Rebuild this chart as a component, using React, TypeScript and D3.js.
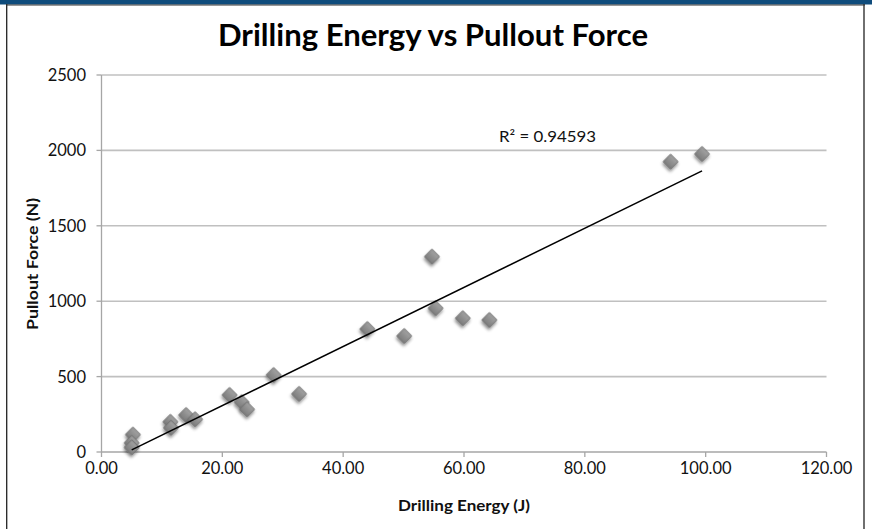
import React from "react";
import * as d3 from "d3";

const energy = [5.2, 5.0, 5.0, 11.4, 11.5, 14.0, 15.5, 21.2, 23.2, 24.1, 28.5, 32.7, 44.0, 50.1, 54.7, 55.3, 59.8, 64.2, 94.2, 99.4];
const force = [115, 60, 30, 200, 160, 245, 217, 378, 330, 283, 510, 385, 815, 769, 1295, 953, 887, 875, 1925, 1976];
const xTicks = [0, 20, 40, 60, 80, 100, 120];
const yTicks = [0, 500, 1000, 1500, 2000, 2500];
const titleText = "Drilling Energy vs Pullout Force";
const xTitle = "Drilling Energy (J)";
const yTitle = "Pullout Force (N)";
const r2Label = "R² = 0.94593";

const W = 872;
const H = 529;
const FONT = "Lato, 'Open Sans', 'DejaVu Sans', sans-serif";

export default function App() {
  const x = d3.scaleLinear().domain([0, 120]).range([101.5, 826.5]);
  const y = d3.scaleLinear().domain([0, 2500]).range([452, 75]);

  const mx = d3.mean(energy) as number;
  const my = d3.mean(force) as number;
  let sxy = 0, sxx = 0;
  energy.forEach((e, i) => { sxy += (e - mx) * (force[i] - my); sxx += (e - mx) * (e - mx); });
  const slope = sxy / sxx;
  const intercept = my - slope * mx;
  const x0 = d3.min(energy) as number;
  const x1 = d3.max(energy) as number;
  const line = d3.line<number>().x((d) => x(d)).y((d) => y(intercept + slope * d));
  const diamond = d3.symbol().type(d3.symbolSquare).size(112)();

  return (
    <svg width={W} height={H} style={{ position: "absolute", left: 0, top: 0, background: "#fff" }}>
      <defs>
        <filter id="sh" x="-50%" y="-50%" width="200%" height="200%">
          <feDropShadow dx="1.2" dy="2" stdDeviation="1.4" floodColor="#000" floodOpacity="0.45" />
        </filter>
        <linearGradient id="dg" x1="0" y1="0" x2="0" y2="1">
          <stop offset="0" stopColor="#a2a2a2" />
          <stop offset="1" stopColor="#7c7c7c" />
        </linearGradient>
      </defs>
      <rect x={0} y={0} width={W} height={H} fill="#fff" />
      <rect x={0} y={0} width={W} height={4.5} fill="#0f4c7c" />
      <line x1={6.7} x2={6.7} y1={4} y2={H} stroke="#222" strokeWidth={1.3} />
      <line x1={864} x2={864} y1={4} y2={H} stroke="#222" strokeWidth={1.3} />
      <line x1={6} x2={865} y1={5} y2={5} stroke="#333" strokeWidth={1} />

      <text x={433} y={46} textAnchor="middle" fontFamily={FONT} fontWeight={700} fontSize={30}
        textLength={430} lengthAdjust="spacingAndGlyphs" fill="#000">{titleText}</text>

      {yTicks.map((t) => (
        <g key={"gy" + t}>
          <line x1={x(0)} x2={x(120)} y1={y(t)} y2={y(t)} stroke={t === 0 ? "#a6a6a6" : "#c0c0c0"} strokeWidth={1.6} />
          <line x1={x(0) - 5} x2={x(0)} y1={y(t)} y2={y(t)} stroke="#a6a6a6" strokeWidth={1.3} />
          <text x={86} y={y(t)} dy="0.36em" textAnchor="end" fontFamily={FONT} fontSize={16.5} fill="#111">{t}</text>
        </g>
      ))}
      <line x1={x(0)} x2={x(0)} y1={y(2500)} y2={y(0)} stroke="#a6a6a6" strokeWidth={1.3} />
      {xTicks.map((t) => (
        <g key={"gx" + t}>
          <line x1={x(t)} x2={x(t)} y1={y(0)} y2={y(0) + 5} stroke="#a6a6a6" strokeWidth={1.3} />
          <text x={x(t)} y={468} dy="0.36em" textAnchor="middle" fontFamily={FONT} fontSize={16.5} fill="#111">{t.toFixed(2)}</text>
        </g>
      ))}

      <text x={464} y={511} textAnchor="middle" fontFamily={FONT} fontWeight={700} fontSize={15}
        textLength={132} lengthAdjust="spacingAndGlyphs" fill="#111">{xTitle}</text>
      <text transform={`translate(38,264) rotate(-90)`} textAnchor="middle" fontFamily={FONT} fontWeight={700} fontSize={15}
        textLength={132} lengthAdjust="spacingAndGlyphs" fill="#111">{yTitle}</text>

      {energy.map((e, i) => (
        <path key={"p" + i} d={diamond} transform={`translate(${x(e)},${y(force[i])}) rotate(45)`}
          fill="url(#dg)" stroke="#6e6e6e" strokeWidth={0.8} filter="url(#sh)" />
      ))}

      <path d={line([x0, x1]) as string} stroke="#000" strokeWidth={1.5} fill="none" />

      <text x={499} y={142} fontFamily={FONT} fontSize={15.5} fill="#111"
        textLength={97} lengthAdjust="spacingAndGlyphs">{r2Label}</text>
    </svg>
  );
}
